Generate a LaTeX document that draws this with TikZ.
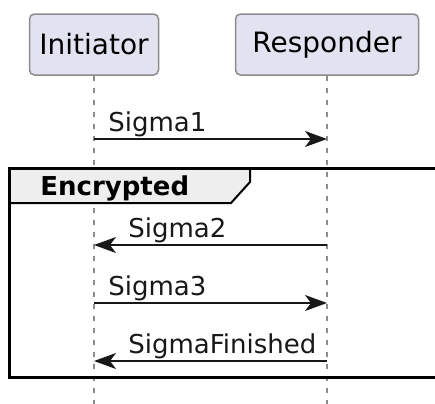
\documentclass[tikz,border=0pt]{standalone}
\usepackage{fontspec}
\setmainfont{DejaVu Sans}
\usetikzlibrary{arrows.meta, positioning, calc}
\definecolor{umlline}{HTML}{181818}
\definecolor{umlborder}{HTML}{8C8C8C}
\definecolor{umlfill}{HTML}{E2E2F0}
\definecolor{grouphead}{HTML}{EEEEEE}

\begin{document}
\begin{tikzpicture}[
    x=0.5pt, y=-0.5pt,
    participant/.style={rectangle, rounded corners=2.5pt, draw=umlborder, line width=0.75pt, fill=umlfill, minimum height=30.5pt, inner sep=0pt, font=\fontsize{14}{16}\selectfont},
    lifeline/.style={draw=umlborder, line width=0.6pt, dash pattern=on 2.5pt off 3.5pt},
    msg/.style={draw=umlline, line width=0.75pt, -{Stealth[length=11pt, width=8pt, inset=3pt]}},
    lbl/.style={inner sep=0pt, anchor=base west, text=umlline, font=\fontsize{13}{15}\selectfont},
    groupframe/.style={draw=black, line width=1.5pt},
    grouptab/.style={draw=black, line width=1pt, fill=grouphead}
]
    \clip (0,0) rectangle (435,403);

    % Participants
    \node[participant, minimum width=64.5pt] (init) at (94, 44.5) {Initiator};
    \node[participant, minimum width=91.5pt] (resp) at (327, 44.5) {Responder};
    \coordinate (initend) at (94, 410);
    \coordinate (respend) at (327, 410);
    \draw[lifeline] (init.south) -- (initend);
    \draw[lifeline] (resp.south) -- (respend);

    % Message rows
    \coordinate (i1) at (94, 139);  \coordinate (r1) at (327, 139);
    \coordinate (i2) at (94, 245);  \coordinate (r2) at (327, 245);
    \coordinate (i3) at (94, 303);  \coordinate (r3) at (327, 303);
    \coordinate (i4) at (94, 361);  \coordinate (r4) at (327, 361);

    % Encrypted group
    \draw[grouptab] (9,168) -- (250,168) -- (250,182) -- (231,203) -- (9,203) -- cycle;
    \node[inner sep=0pt, anchor=base west, font=\fontsize{13}{15}\selectfont\bfseries] (grouplabel) at (40, 195) {Encrypted};
    \draw[groupframe] (9,168) rectangle (445,377);

    % Messages
    \draw[msg] (i1) -- (r1);
    \node[lbl] (sigma1) at ($(i1)+(14,-8)$) {Sigma1};
    \draw[msg] (r2) -- (i2);
    \node[lbl] (sigma2) at ($(i2)+(34,-8)$) {Sigma2};
    \draw[msg] (i3) -- (r3);
    \node[lbl] (sigma3) at ($(i3)+(14,-8)$) {Sigma3};
    \draw[msg] (r4) -- (i4);
    \node[lbl] (sigmafin) at ($(i4)+(34,-8)$) {SigmaFinished};
\end{tikzpicture}
\end{document}
